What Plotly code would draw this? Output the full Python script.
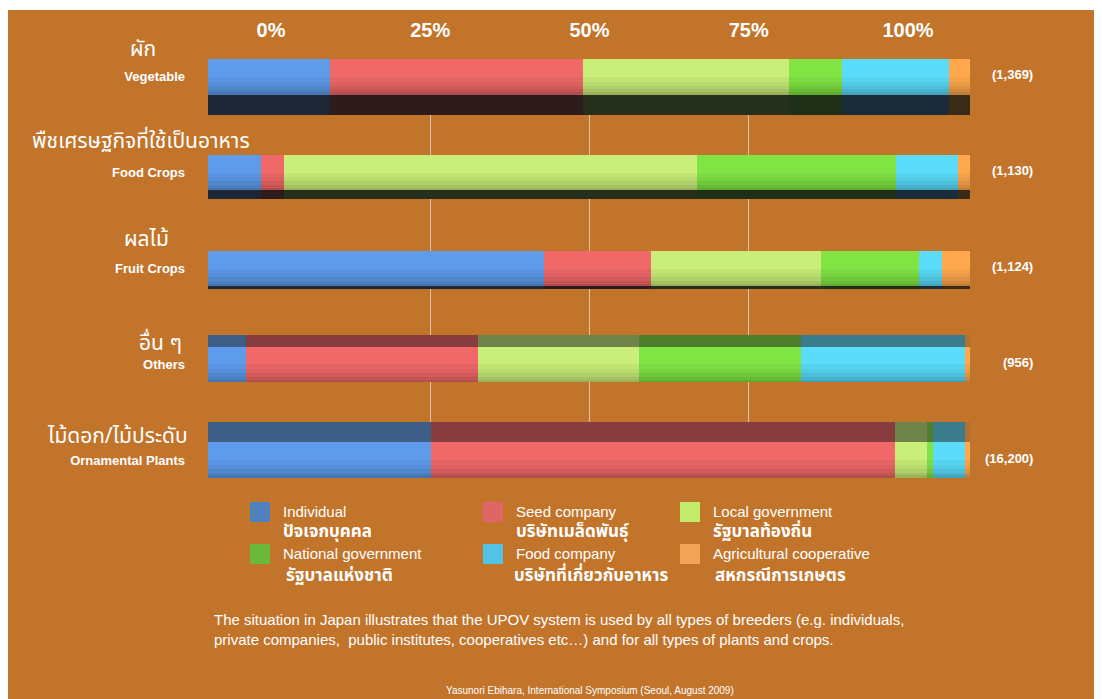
import plotly.graph_objects as go
import numpy as np

W, H = 1102, 699
OFF = 8  # page body margin in the browser


def fx(px):
    return (px - OFF) / W


def fy(py):
    return 1 - (py - OFF) / H


# ---------------- data ----------------
categories = ["Vegetable", "Food Crops", "Fruit Crops", "Others", "Ornamental Plants"]
categories_th = ["ผัก", "พืชเศรษฐกิจที่ใช้เป็นอาหาร", "ผลไม้", "อื่น ๆ", "ไม้ดอก/ไม้ประดับ"]
totals = ["(1,369)", "(1,130)", "(1,124)", "(956)", "(16,200)"]

series_en = ["Individual", "Seed company", "Local government",
             "National government", "Food company", "Agricultural cooperative"]
series_th = ["ปัจเจกบุคคล", "บริษัทเมล็ดพันธุ์", "รัฐบาลท้องถิ่น",
             "รัฐบาลแห่งชาติ", "บริษัทที่เกี่ยวกับอาหาร", "สหกรณีการเกษตร"]

# percent share per category (Vegetable, Food, Fruit, Others, Ornamental)
individual = [16.0, 7.0, 44.1, 5.0, 29.2]
seed_company = [33.2, 3.0, 14.1, 30.4, 61.0]
local_government = [27.1, 54.2, 22.2, 21.2, 4.1]
national_government = [6.9, 26.1, 12.9, 21.2, 0.9]
food_company = [14.0, 8.1, 3.0, 21.5, 4.1]
agri_cooperative = [2.8, 1.6, 3.7, 0.7, 0.7]

tick_vals = [0, 25, 50, 75, 100]
tick_text = ["0%", "25%", "50%", "75%", "100%"]

# ---------------- styles ----------------
face_colors = ["#5E9CEB", "#F06868", "#C9EE7A", "#80E443", "#5ADCFA", "#FFA84E"]
side_colors_dark = ["#1D2736", "#2E1B1B", "#262E1C", "#1F2E17", "#1A2C38", "#3A2A18"]
side_colors_top = ["#3D5E86", "#873D3D", "#708449", "#4C7E2C", "#3A7B8C", "#B07030"]
legend_colors = ["#4F81BD", "#E06666", "#C4EC6C", "#6AB83A", "#52C3E5", "#F5A356"]
bg = "#C2742B"
BAR_W = 0.37
depth = [0.21, 0.09, 0.03, 0.125, 0.21]
side_dir = ["below", "below", "below", "above", "above"]

series = [individual, seed_company, local_government,
          national_government, food_company, agri_cooperative]
vals = np.array(series)
bases = np.vstack([np.zeros(vals.shape[1]), np.cumsum(vals, axis=0)[:-1]])
cat_total = vals.sum(axis=0)

fig = go.Figure()

# grid + tick-label axes (drawn first, behind bars)
fig.add_trace(go.Scatter(x=[None], y=[None], xaxis="x", yaxis="y",
                         showlegend=False, hoverinfo="skip"))
fig.add_trace(go.Scatter(x=[None], y=[None], xaxis="x3", yaxis="y",
                         showlegend=False, hoverinfo="skip"))

# soft shadow under "Others"
for k, a in enumerate([0.10, 0.10, 0.12]):
    pad = 12 - 5 * k
    fig.add_shape(type="circle", xref="paper", yref="paper",
                  x0=fx(330 - pad * 3), x1=fx(800 + pad * 3),
                  y0=fy(412 + pad), y1=fy(386 - pad),
                  fillcolor=f"rgba(70,35,0,{a})", line_width=0, layer="below")

# side faces (3D depth)
for i in range(len(series)):
    cols = [side_colors_dark[i] if d == "below" else side_colors_top[i] for d in side_dir]
    offs = [BAR_W / 2 if d == "below" else -BAR_W / 2 - dp for d, dp in zip(side_dir, depth)]
    fig.add_trace(go.Bar(
        y=categories, x=vals[i], base=bases[i], orientation="h",
        width=depth, offset=offs, marker=dict(color=cols, line_width=0),
        xaxis="x2", yaxis="y2", showlegend=False, hoverinfo="skip"))

# front faces
for i in range(len(series)):
    fig.add_trace(go.Bar(
        y=categories, x=vals[i], base=bases[i], orientation="h",
        name=series_en[i], width=BAR_W, offset=-BAR_W / 2,
        marker=dict(color=face_colors[i], line_width=0),
        xaxis="x2", yaxis="y2", showlegend=False))

# shading gradient on front faces
for o, a in [(0.0, 0.04), (0.05, 0.04), (0.09, 0.05), (0.13, 0.06), (0.16, 0.08)]:
    fig.add_trace(go.Bar(
        y=categories, x=cat_total, base=0, orientation="h",
        width=BAR_W / 2 - o, offset=o, marker=dict(color=f"rgba(0,0,0,{a})", line_width=0),
        xaxis="x2", yaxis="y2", showlegend=False, hoverinfo="skip"))

# totals on the right
for c, t in zip(categories, totals):
    fig.add_annotation(x=fx(1035), xref="paper", y=c, yref="y2", text=t,
                       showarrow=False, xanchor="right", yshift=2,
                       font=dict(family="Liberation Sans, Arial", size=13, color="white", weight="bold"))

# Thai category labels
th_x = [143, 141, 146, 160, 118]
th_y = [49, 142, 240, 343, 436]
for t, xx, yy in zip(categories_th, th_x, th_y):
    fig.add_annotation(x=fx(xx), y=fy(yy), xref="paper", yref="paper", text=t,
                       showarrow=False, xanchor="center", yanchor="middle",
                       font=dict(family="Noto Sans Thai, Tahoma, Liberation Sans, sans-serif",
                                 size=21, color="white"))

# legend (manual, 3 columns x 2 rows)
col_x = [250, 483, 680]
row_y = [502, 544]
th_dx = [31, 31, 31, 34, 29, 33]
for i in range(6):
    cx = col_x[i % 3]
    ry = row_y[i // 3]
    fig.add_shape(type="rect", xref="paper", yref="paper",
                  x0=fx(cx), x1=fx(cx + 20), y0=fy(ry + 20), y1=fy(ry),
                  fillcolor=legend_colors[i], line_width=0)
    fig.add_annotation(x=fx(cx + 31), y=fy(ry + 9), xref="paper", yref="paper",
                       text=series_en[i], showarrow=False, xanchor="left", yanchor="middle",
                       font=dict(family="Liberation Sans, Arial", size=15, color="white"))
    fig.add_annotation(x=fx(cx + th_dx[i]), y=fy(ry + 30 + (2 if i >= 3 else 0)),
                       xref="paper", yref="paper",
                       text=series_th[i], showarrow=False, xanchor="left", yanchor="middle",
                       font=dict(family="Noto Sans Thai, Tahoma, Liberation Sans, sans-serif",
                                 size=17, color="white", weight="bold"))

# paragraph and footer
fig.add_annotation(x=fx(212), y=fy(629), xref="paper", yref="paper",
                   text="The situation in Japan illustrates that the UPOV system is used by all types of breeders (e.g. individuals,"
                        "<br>private companies,  public institutes, cooperatives etc…) and for all types of plants and crops.",
                   showarrow=False, xanchor="left", yanchor="middle", align="left",
                   font=dict(family="Liberation Sans, Arial", size=15, color="white"))
fig.add_annotation(x=fx(590), y=fy(690), xref="paper", yref="paper",
                   text="Yasunori Ebihara, International Symposium (Seoul, August 2009)",
                   showarrow=False, xanchor="center", yanchor="middle",
                   font=dict(family="Liberation Sans, Arial", size=10, color="white"))

# background panel
fig.add_shape(type="rect", xref="paper", yref="paper", x0=0, x1=1, y0=0, y1=fy(10),
              fillcolor=bg, line_width=0, layer="below")

fig.update_layout(
    width=W, height=H, autosize=False,
    margin=dict(l=0, r=0, t=0, b=0, pad=0, autoexpand=False),
    paper_bgcolor="white", plot_bgcolor="rgba(0,0,0,0)",
    barmode="overlay", bargap=0, showlegend=False,
    xaxis=dict(domain=[fx(271), fx(908)], range=[0, 100], anchor="y", automargin=False,
               tickvals=tick_vals, showgrid=True, gridcolor="#D8C6B2", gridwidth=1,
               showticklabels=False, zeroline=False, showline=False, ticks=""),
    yaxis=dict(domain=[fy(440), fy(95)], range=[0, 1], anchor="x", automargin=False,
               visible=False, showgrid=False, zeroline=False),
    xaxis3=dict(overlaying="x", anchor="free", position=fy(41), side="top", automargin=False,
                range=[0, 100], tickvals=tick_vals, ticktext=tick_text,
                showgrid=False, zeroline=False, showline=False, ticks="",
                tickfont=dict(family="Liberation Sans, Arial", size=20, color="white", weight="bold")),
    xaxis2=dict(domain=[fx(208), fx(970)], range=[0, 100], anchor="y2", automargin=False,
                visible=False, showgrid=False, zeroline=False),
    yaxis2=dict(domain=[fy(508), fy(29)], anchor="x2", type="category", automargin=False,
                categoryorder="array", categoryarray=categories,
                range=[4.5, -0.5], showgrid=False, zeroline=False, showline=False,
                ticks="", ticklabelstandoff=22,
                tickfont=dict(family="Liberation Sans, Arial", size=13, color="white", weight="bold")),
)

fig.write_html("out.html")
